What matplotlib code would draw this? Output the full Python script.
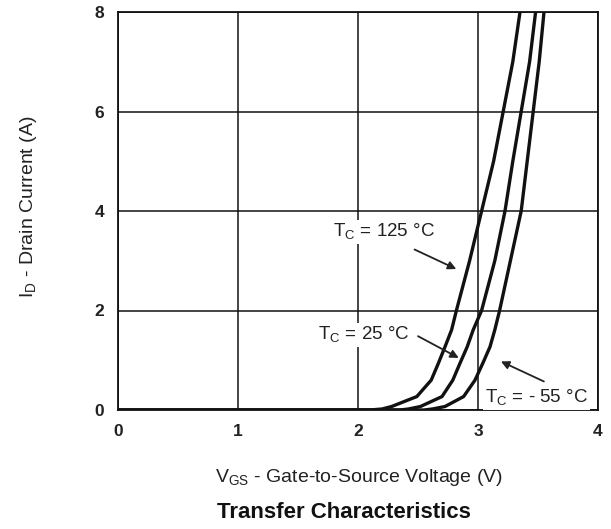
import matplotlib
matplotlib.use("Agg")
import matplotlib.pyplot as plt

plt.rcParams['font.family'] = ['Liberation Sans', 'DejaVu Sans']

# Transfer characteristic curves (V_GS [V], I_D [A])
v_125 = [0, 2.10, 2.20, 2.28, 2.49, 2.61, 2.67, 2.725, 2.78, 2.82, 2.93, 3.03, 3.13, 3.21, 3.29, 3.35]
i_125 = [0, 0.00, 0.02, 0.07, 0.27, 0.60, 0.94, 1.27, 1.61, 2.00, 3.00, 4.00, 5.00, 6.00, 7.00, 8.00]

v_25 = [0, 2.35, 2.42, 2.52, 2.70, 2.79, 2.85, 2.91, 2.96, 3.03, 3.14, 3.225, 3.29, 3.36, 3.43, 3.48]
i_25 = [0, 0.00, 0.02, 0.07, 0.27, 0.60, 0.94, 1.27, 1.61, 2.00, 3.00, 4.00, 5.00, 6.00, 7.00, 8.00]

v_m55 = [0, 2.55, 2.62, 2.725, 2.88, 2.975, 3.04, 3.10, 3.14, 3.18, 3.27, 3.36, 3.41, 3.46, 3.51, 3.55]
i_m55 = [0, 0.00, 0.02, 0.07, 0.27, 0.60, 0.94, 1.27, 1.61, 2.00, 3.00, 4.00, 5.00, 6.00, 7.00, 8.00]

x_ticks = [0, 1, 2, 3, 4]
y_ticks = [0, 2, 4, 6, 8]

fig = plt.figure(figsize=(6.11, 5.29), dpi=100)
ax = fig.add_axes([118/611, 1 - 410/529, 480/611, 398/529])

ax.set_xlim(0, 4)
ax.set_ylim(0, 8)
ax.set_xticks(x_ticks)
ax.set_yticks(y_ticks)
ax.grid(True, color='#111111', linewidth=1.1)
ax.tick_params(length=0, labelsize=12.5, colors='#222222', pad=10)
for lab in ax.get_xticklabels() + ax.get_yticklabels():
    lab.set_fontweight('bold')
for s in ax.spines.values():
    s.set_linewidth(1.3)
    s.set_color('#111111')

for v, i in [(v_125, i_125), (v_25, i_25), (v_m55, i_m55)]:
    ax.plot(v, i, color='#111111', linewidth=2.4, solid_capstyle='round',
            solid_joinstyle='round', zorder=3)

bbox = dict(facecolor='white', edgecolor='none', pad=1.5)
arrowp = dict(arrowstyle='-|>', color='#222222', lw=1.3, mutation_scale=12)
fs = 13.5

ax.text(1.79, 3.58, 'T$_\\mathregular{C}$ = 125 °C', fontsize=fs, ha='left',
        va='center', bbox=bbox, color='#222222', zorder=4)
ax.annotate('', xy=(2.84, 2.81), xytext=(2.45, 3.25), arrowprops=arrowp, zorder=4)

ax.text(1.67, 1.51, 'T$_\\mathregular{C}$ = 25 °C', fontsize=fs, ha='left',
        va='center', bbox=bbox, color='#222222', zorder=4)
ax.annotate('', xy=(2.86, 1.02), xytext=(2.48, 1.51), arrowprops=arrowp, zorder=4)

ax.text(3.06, 0.25, 'T$_\\mathregular{C}$ = - 55 °C', fontsize=fs, ha='left',
        va='center', bbox=bbox, color='#222222', zorder=4)
ax.annotate('', xy=(3.17, 1.0), xytext=(3.57, 0.55), arrowprops=arrowp, zorder=4)

fig.text(359/611, 1 - 478/529, 'V$_\\mathregular{GS}$ - Gate-to-Source Voltage (V)',
         ha='center', va='center', fontsize=14, color='#222222')
fig.text(29/611, 1 - 207/529, 'I$_\\mathregular{D}$ - Drain Current (A)',
         ha='center', va='center', rotation=90, fontsize=14, color='#222222')
fig.text(344/611, 1 - 513/529, 'Transfer Characteristics',
         ha='center', va='center', fontsize=16, fontweight='bold', color='#111111')

fig.savefig('out.png', dpi=100)
